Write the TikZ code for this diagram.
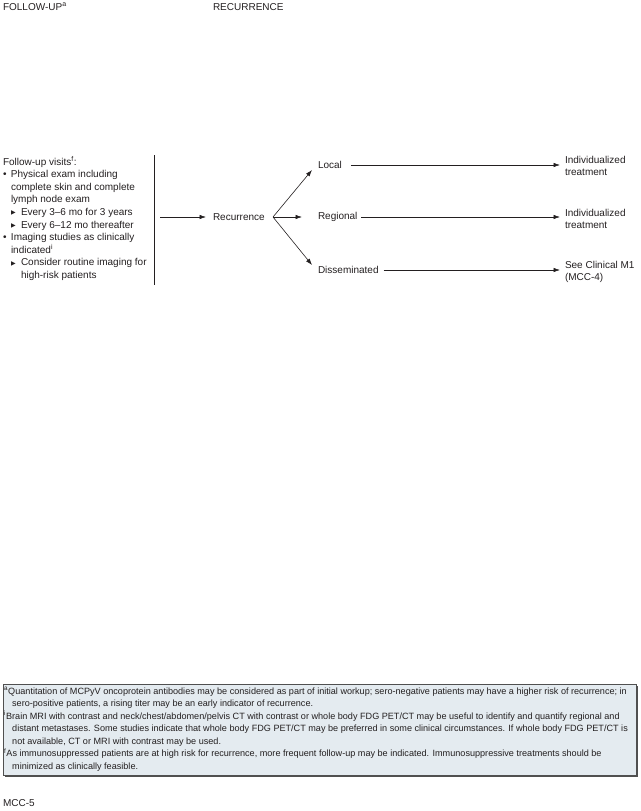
\documentclass[tikz,border=0pt]{standalone}
\usepackage{fontspec}
\setmainfont{Liberation Sans}
\newfontfamily\fnfont{Liberation Sans}
\newfontfamily\symfont{DejaVu Sans}
\usetikzlibrary{arrows.meta,calc}
\definecolor{ink}{HTML}{231F20}
\definecolor{boxfill}{HTML}{E4EBF0}
\definecolor{boxline}{HTML}{505050}
\newcommand\blt{\makebox[8pt][l]{\textbullet}}
\newcommand\ind{\hspace*{8pt}}
\newcommand\tri{\hspace*{8pt}\makebox[10pt][l]{\raisebox{0.6pt}{\symfont\fontsize{6}{6}\selectfont ▶}}}
\newcommand\indd{\hspace*{18pt}}
\newcommand\fnind{\hspace*{8pt}}
\begin{document}
\begin{tikzpicture}[x=1pt,y=-1pt,
  txt/.style={inner sep=0pt, outer sep=0pt, text=ink, font=\fontsize{10}{12.6}\selectfont, align=left},
  arr/.style={draw=ink, line width=0.6pt, -{Latex[length=6.5pt,width=4.5pt]}},
  fnbox/.style={draw=boxline, fill=boxfill, line width=0.7pt, inner sep=0pt, minimum width=633pt, minimum height=91pt},
  fntxt/.style={inner sep=0pt, text=ink, font=\fnfont\fontsize{9.1}{12.5}\selectfont, align=left}]
\useasboundingbox (0,0) rectangle (640,811);
% headers
\node[txt, anchor=base west] (h1) at (3,10) {FOLLOW-UP\textsuperscript{a}};
\node[txt, anchor=base west] (h2) at (213,10) {RECURRENCE};
% left block
\node[txt, anchor=north west] (fu) at (3,156.5) {Follow-up visits\textsuperscript{f}:\\
\blt Physical exam including\\
\ind complete skin and complete\\
\ind lymph node exam\\
\tri Every 3–6 mo for 3 years\\
\tri Every 6–12 mo thereafter\\
\blt Imaging studies as clinically\\
\ind indicated\textsuperscript{i}\\
\tri Consider routine imaging for\\
\indd high-risk patients};
\draw[ink, line width=0.6pt] (154,155) coordinate (vt) -- (154,285) coordinate (vb);
\coordinate (a0) at (160,217);
\node[txt, anchor=west] (rec) at (213,217) {Recurrence};
\draw[arr] (a0) -- ([xshift=-7pt]rec.west);
\coordinate (br) at (273,217);
\node[txt, anchor=west] (loc) at (318,165) {Local};
\node[txt, anchor=west] (reg) at (318,217) {Regional};
\node[txt, anchor=west] (dis) at (318,270) {Disseminated};
\draw[arr] (br) -- ($(loc.west)+(-6,5)$);
\draw[arr] (br) -- ([xshift=-16pt]reg.west);
\draw[arr] (br) -- ($(dis.west)+(-6,-5)$);
\node[txt, anchor=west] (t1) at (565,166) {Individualized\\treatment};
\node[txt, anchor=west] (t2) at (565,219) {Individualized\\treatment};
\node[txt, anchor=west] (t3) at (565,272) {See Clinical M1\\(MCC-4)};
\draw[arr] ([xshift=9pt]loc.east) -- (loc.east -| 560,0);
\draw[arr] ([xshift=4pt]reg.east) -- (reg.east -| 560,0);
\draw[arr] ([xshift=5pt]dis.east) -- (dis.east -| 560,0);
% footnotes
\fill[boxline] (5,686) rectangle (637.5,776.5);
\node[fnbox, anchor=north west] (fnb) at (3,684) {};
\node[fntxt, anchor=north west] (fn) at (4,687) {\textsuperscript{a}Quantitation of MCPyV oncoprotein antibodies may be considered as part of initial workup; sero-negative patients may have a higher risk of recurrence; in\\
\fnind sero-positive patients, a rising titer may be an early indicator of recurrence.\\
\textsuperscript{i}Brain MRI with contrast and neck/chest/abdomen/pelvis CT with contrast or whole body FDG PET/CT may be useful to identify and quantify regional and\\
\fnind distant metastases. Some studies indicate that whole body FDG PET/CT may be preferred in some clinical circumstances. If whole body FDG PET/CT is\\
\fnind not available, CT or MRI with contrast may be used.\\
\textsuperscript{f}As immunosuppressed patients are at high risk for recurrence, more frequent follow-up may be indicated. Immunosuppressive treatments should be\\
\fnind minimized as clinically feasible.};
\node[txt, anchor=base west] (pg) at (3,806.5) {MCC-5};
\end{tikzpicture}
\end{document}
